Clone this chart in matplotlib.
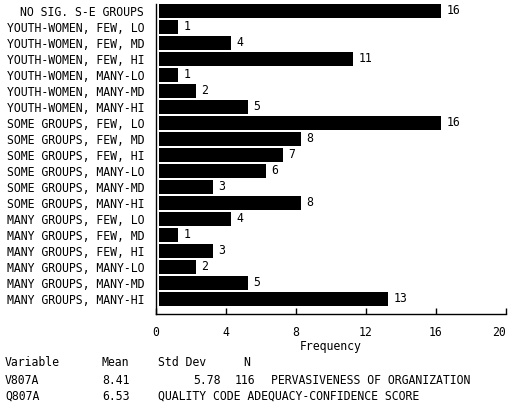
import matplotlib
matplotlib.use("Agg")
import matplotlib.pyplot as plt

categories = [
    "NO SIG. S-E GROUPS",
    "YOUTH-WOMEN, FEW, LO",
    "YOUTH-WOMEN, FEW, MD",
    "YOUTH-WOMEN, FEW, HI",
    "YOUTH-WOMEN, MANY-LO",
    "YOUTH-WOMEN, MANY-MD",
    "YOUTH-WOMEN, MANY-HI",
    "SOME GROUPS, FEW, LO",
    "SOME GROUPS, FEW, MD",
    "SOME GROUPS, FEW, HI",
    "SOME GROUPS, MANY-LO",
    "SOME GROUPS, MANY-MD",
    "SOME GROUPS, MANY-HI",
    "MANY GROUPS, FEW, LO",
    "MANY GROUPS, FEW, MD",
    "MANY GROUPS, FEW, HI",
    "MANY GROUPS, MANY-LO",
    "MANY GROUPS, MANY-MD",
    "MANY GROUPS, MANY-HI",
]
values = [16, 1, 4, 11, 1, 2, 5, 16, 8, 7, 6, 3, 8, 4, 1, 3, 2, 5, 13]
xticks = [0, 4, 8, 12, 16, 20]

stats_header = ["Variable", "Mean", "Std Dev", "N"]
stats_row1 = ["V807A", "8.41", "5.78", "116", "PERVASIVENESS OF ORGANIZATION"]
stats_row2 = ["Q807A", "6.53", "QUALITY CODE ADEQUACY-CONFIDENCE SCORE"]

FONT = "DejaVu Sans Mono"
FS = 8.3
W, H = 511, 403

fig = plt.figure(figsize=(W / 100, H / 100), dpi=100)
ax = fig.add_axes([155.7 / W, 1 - 314 / H, 350 / W, 310 / H])

offset = 0.2
ypos = list(range(len(categories)))
ax.barh(ypos, [v + 0.1 for v in values], left=offset, height=0.875,
        color="black", edgecolor="none")
for y, v in zip(ypos, values):
    ax.text(v + offset + 0.1 + 0.3, y, str(v), va="center", ha="left",
            fontsize=FS, family=FONT, color="black")

ax.set_xlim(0, 20)
ax.set_ylim(18.9375, -0.4375)
ax.set_yticks(ypos)
ax.set_yticklabels(categories, fontsize=FS, family=FONT)
ax.set_xticks(xticks)
ax.set_xticklabels([str(t) for t in xticks], fontsize=FS, family=FONT)
ax.get_xticklabels()[-1].set_horizontalalignment("right")
ax.tick_params(axis="y", length=0, pad=8.4)
ax.tick_params(axis="x", direction="in", length=4.5, width=1, pad=8.5)
ax.set_xlabel("Frequency", fontsize=FS, family=FONT, labelpad=1)
for s in ["top", "right"]:
    ax.spines[s].set_visible(False)
for s in ["left", "bottom"]:
    ax.spines[s].set_linewidth(1)

def ftext(x, y, s):
    fig.text(x / W, 1 - y / H, s, fontsize=FS, family=FONT, va="center", ha="left")

hx = [5, 102, 158, 243]
for x, s in zip(hx, stats_header):
    ftext(x, 363, s)
r1x = [5, 102, 193, 235, 271]
for x, s in zip(r1x, stats_row1):
    ftext(x, 380, s)
r2x = [5, 102, 158]
for x, s in zip(r2x, stats_row2):
    ftext(x, 396, s)

fig.savefig("out.png", dpi=100)
